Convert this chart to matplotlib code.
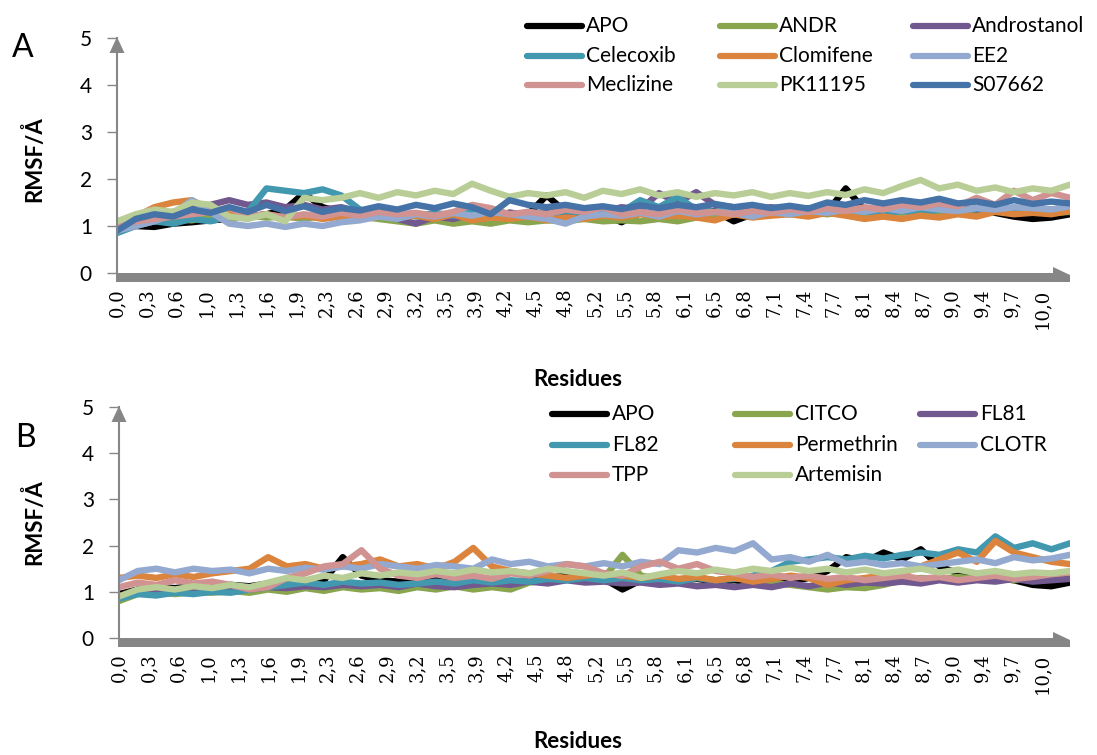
import numpy as np
import matplotlib.pyplot as plt
from matplotlib.lines import Line2D
from matplotlib.patches import Polygon

W, H = 1097, 755
plt.rcParams['font.family'] = ['Lato', 'DejaVu Sans']

# residue axis (category positions) and the Excel-style tick labels
resid = np.linspace(0, 10.3, 52)
tick_pos = np.linspace(0, 10, 32)
tick_labels = ['0,0', '0,3', '0,6', '1,0', '1,3', '1,6', '1,9', '2,3', '2,6', '2,9',
               '3,2', '3,5', '3,9', '4,2', '4,5', '4,8', '5,2', '5,5', '5,8', '6,1',
               '6,5', '6,8', '7,1', '7,4', '7,7', '8,1', '8,4', '8,7', '9,0', '9,4',
               '9,7', '10,0']

# ---- panel A (RMSF, Angstrom) ----
apo_a = [0.95, 1.00, 0.98, 1.05, 1.08, 1.12, 1.15, 1.20, 1.25, 1.35, 1.70, 1.40, 1.30,
         1.25, 1.30, 1.22, 1.25, 1.20, 1.28, 1.25, 1.20, 1.28, 1.25, 1.65, 1.30, 1.22,
         1.25, 1.08, 1.28, 1.22, 1.30, 1.25, 1.32, 1.10, 1.25, 1.30, 1.28, 1.32, 1.30,
         1.80, 1.35, 1.30, 1.35, 1.32, 1.38, 1.32, 1.35, 1.28, 1.20, 1.15, 1.18, 1.25]
andr_a = [0.95, 1.05, 1.10, 1.15, 1.12, 1.20, 1.15, 1.22, 1.18, 1.20, 1.15, 1.22, 1.18,
          1.20, 1.15, 1.10, 1.05, 1.12, 1.05, 1.10, 1.05, 1.12, 1.08, 1.12, 1.10, 1.15,
          1.10, 1.12, 1.10, 1.15, 1.10, 1.18, 1.20, 1.25, 1.22, 1.28, 1.25, 1.30, 1.25,
          1.30, 1.28, 1.32, 1.28, 1.35, 1.30, 1.32, 1.28, 1.35, 1.30, 1.32, 1.28, 1.30]
androstanol_a = [1.00, 1.10, 1.25, 1.30, 1.40, 1.45, 1.55, 1.45, 1.50, 1.40, 1.45, 1.35,
                 1.40, 1.30, 1.25, 1.15, 1.05, 1.20, 1.15, 1.25, 1.20, 1.28, 1.25, 1.30,
                 1.28, 1.35, 1.30, 1.40, 1.35, 1.70, 1.50, 1.72, 1.45, 1.40, 1.35, 1.40,
                 1.35, 1.38, 1.35, 1.40, 1.35, 1.38, 1.32, 1.38, 1.35, 1.40, 1.35, 1.38,
                 1.32, 1.38, 1.35, 1.40]
celecoxib_a = [0.85, 1.00, 1.10, 1.05, 1.15, 1.10, 1.20, 1.30, 1.80, 1.75, 1.70, 1.78,
               1.65, 1.35, 1.25, 1.30, 1.20, 1.28, 1.22, 1.30, 1.25, 1.20, 1.30, 1.25,
               1.32, 1.28, 1.35, 1.30, 1.55, 1.40, 1.62, 1.35, 1.30, 1.35, 1.28, 1.32,
               1.25, 1.30, 1.28, 1.35, 1.30, 1.25, 1.32, 1.28, 1.35, 1.30, 1.38, 1.32,
               1.28, 1.35, 1.30, 1.38]
clomifene_a = [1.00, 1.20, 1.40, 1.50, 1.55, 1.35, 1.25, 1.20, 1.25, 1.18, 1.22, 1.15,
               1.20, 1.15, 1.20, 1.18, 1.22, 1.15, 1.25, 1.12, 1.18, 1.15, 1.20, 1.12,
               1.18, 1.15, 1.22, 1.18, 1.25, 1.20, 1.22, 1.18, 1.12, 1.25, 1.18, 1.22,
               1.25, 1.20, 1.28, 1.22, 1.15, 1.20, 1.15, 1.22, 1.18, 1.25, 1.20, 1.30,
               1.25, 1.28, 1.25, 1.32]
ee2_a = [0.90, 1.00, 1.10, 1.25, 1.55, 1.30, 1.05, 1.00, 1.05, 0.98, 1.05, 1.00, 1.08,
         1.12, 1.20, 1.15, 1.25, 1.20, 1.28, 1.22, 1.30, 1.25, 1.20, 1.15, 1.05, 1.20,
         1.25, 1.22, 1.28, 1.20, 1.32, 1.25, 1.30, 1.28, 1.20, 1.30, 1.25, 1.32, 1.28,
         1.35, 1.30, 1.38, 1.32, 1.40, 1.35, 1.32, 1.38, 1.35, 1.40, 1.38, 1.35, 1.42]
meclizine_a = [1.00, 1.10, 1.15, 1.20, 1.25, 1.30, 1.40, 1.20, 1.25, 1.18, 1.25, 1.20,
               1.28, 1.22, 1.30, 1.25, 1.28, 1.22, 1.30, 1.45, 1.38, 1.25, 1.30, 1.25,
               1.35, 1.30, 1.40, 1.25, 1.30, 1.25, 1.35, 1.28, 1.30, 1.25, 1.32, 1.28,
               1.35, 1.30, 1.38, 1.32, 1.40, 1.35, 1.45, 1.40, 1.48, 1.42, 1.60, 1.45,
               1.75, 1.55, 1.70, 1.60]
pk11195_a = [1.10, 1.25, 1.35, 1.30, 1.50, 1.45, 1.20, 1.15, 1.25, 1.10, 1.60, 1.55,
             1.60, 1.70, 1.60, 1.72, 1.65, 1.75, 1.68, 1.90, 1.75, 1.62, 1.70, 1.65,
             1.72, 1.60, 1.75, 1.68, 1.78, 1.65, 1.72, 1.62, 1.70, 1.65, 1.72, 1.62,
             1.70, 1.64, 1.72, 1.66, 1.78, 1.70, 1.85, 1.98, 1.80, 1.88, 1.75, 1.82,
             1.72, 1.80, 1.75, 1.88]
s07662_a = [0.90, 1.15, 1.25, 1.20, 1.35, 1.28, 1.40, 1.30, 1.45, 1.32, 1.42, 1.30, 1.38,
            1.33, 1.42, 1.35, 1.45, 1.38, 1.48, 1.40, 1.25, 1.55, 1.45, 1.40, 1.45, 1.38,
            1.42, 1.36, 1.44, 1.38, 1.45, 1.40, 1.47, 1.40, 1.45, 1.38, 1.43, 1.37, 1.50,
            1.45, 1.55, 1.48, 1.55, 1.50, 1.58, 1.48, 1.52, 1.45, 1.55, 1.47, 1.52, 1.48]

# ---- panel B ----
apo_b = [0.95, 1.05, 1.10, 1.08, 1.12, 1.10, 1.15, 1.12, 1.18, 1.15, 1.20, 1.25, 1.75,
         1.35, 1.25, 1.22, 1.28, 1.25, 1.30, 1.25, 1.28, 1.22, 1.25, 1.30, 1.35, 1.30,
         1.28, 1.05, 1.25, 1.30, 1.25, 1.28, 1.22, 1.25, 1.20, 1.25, 1.22, 1.30, 1.45,
         1.75, 1.65, 1.85, 1.70, 1.92, 1.55, 1.40, 1.35, 1.30, 1.25, 1.15, 1.12, 1.20]
citco_b = [0.80, 0.95, 1.00, 0.95, 1.00, 0.98, 1.02, 0.98, 1.05, 1.00, 1.08, 1.02, 1.10,
           1.05, 1.08, 1.02, 1.10, 1.05, 1.12, 1.05, 1.10, 1.05, 1.20, 1.25, 1.30, 1.35,
           1.30, 1.80, 1.35, 1.28, 1.25, 1.30, 1.25, 1.30, 1.25, 1.20, 1.15, 1.10, 1.05,
           1.10, 1.08, 1.15, 1.25, 1.30, 1.28, 1.32, 1.28, 1.30, 1.25, 1.30, 1.28, 1.30]
fl81_b = [0.90, 1.00, 1.05, 1.00, 1.05, 1.02, 1.08, 1.05, 1.10, 1.08, 1.12, 1.10, 1.15,
          1.12, 1.15, 1.10, 1.18, 1.12, 1.10, 1.15, 1.18, 1.15, 1.22, 1.18, 1.25, 1.20,
          1.22, 1.18, 1.20, 1.15, 1.18, 1.12, 1.15, 1.10, 1.15, 1.10, 1.18, 1.12, 1.20,
          1.15, 1.20, 1.18, 1.22, 1.18, 1.25, 1.20, 1.25, 1.22, 1.28, 1.22, 1.25, 1.28]
fl82_b = [0.85, 0.95, 0.92, 0.98, 0.95, 1.00, 0.98, 1.05, 1.10, 1.15, 1.20, 1.15, 1.22,
          1.18, 1.20, 1.15, 1.18, 1.22, 1.18, 1.25, 1.20, 1.25, 1.22, 1.28, 1.25, 1.30,
          1.25, 1.30, 1.25, 1.28, 1.22, 1.30, 1.25, 1.28, 1.35, 1.45, 1.65, 1.70, 1.75,
          1.70, 1.78, 1.72, 1.80, 1.85, 1.80, 1.92, 1.85, 2.20, 1.95, 2.05, 1.92, 2.05]
permethrin_b = [1.30, 1.35, 1.30, 1.38, 1.32, 1.40, 1.45, 1.50, 1.75, 1.55, 1.60, 1.50,
                1.55, 1.60, 1.70, 1.55, 1.60, 1.50, 1.65, 1.95, 1.55, 1.45, 1.40, 1.35,
                1.30, 1.35, 1.40, 1.35, 1.30, 1.35, 1.28, 1.32, 1.25, 1.30, 1.22, 1.28,
                1.35, 1.30, 1.15, 1.25, 1.30, 1.35, 1.40, 1.55, 1.70, 1.85, 1.65, 2.10,
                1.85, 1.75, 1.65, 1.60]
clotr_b = [1.25, 1.45, 1.50, 1.42, 1.50, 1.45, 1.48, 1.40, 1.50, 1.45, 1.52, 1.48, 1.55,
           1.50, 1.60, 1.55, 1.50, 1.58, 1.55, 1.50, 1.70, 1.60, 1.65, 1.55, 1.60, 1.55,
           1.62, 1.55, 1.65, 1.60, 1.90, 1.85, 1.95, 1.88, 2.05, 1.70, 1.75, 1.65, 1.80,
           1.60, 1.65, 1.58, 1.62, 1.55, 1.60, 1.65, 1.70, 1.62, 1.75, 1.68, 1.72, 1.80]
tpp_b = [1.10, 1.20, 1.15, 1.25, 1.18, 1.22, 1.15, 1.05, 1.10, 1.30, 1.40, 1.55, 1.60,
         1.90, 1.50, 1.35, 1.30, 1.38, 1.30, 1.35, 1.28, 1.40, 1.35, 1.45, 1.60, 1.55,
         1.40, 1.35, 1.55, 1.65, 1.50, 1.60, 1.45, 1.40, 1.32, 1.38, 1.30, 1.35, 1.28,
         1.32, 1.25, 1.30, 1.35, 1.28, 1.32, 1.25, 1.30, 1.35, 1.28, 1.32, 1.38, 1.42]
artemisin_b = [0.90, 1.05, 1.10, 1.05, 1.12, 1.08, 1.15, 1.10, 1.20, 1.30, 1.25, 1.35,
               1.30, 1.40, 1.35, 1.42, 1.38, 1.45, 1.40, 1.48, 1.42, 1.45, 1.40, 1.50,
               1.45, 1.40, 1.35, 1.42, 1.30, 1.38, 1.45, 1.40, 1.48, 1.42, 1.50, 1.45,
               1.52, 1.45, 1.50, 1.42, 1.48, 1.40, 1.45, 1.50, 1.42, 1.48, 1.40, 1.45,
               1.38, 1.42, 1.40, 1.45]

names_a = ['APO', 'ANDR', 'Androstanol', 'Celecoxib', 'Clomifene', 'EE2',
           'Meclizine', 'PK11195', 'S07662']
series_a = [apo_a, andr_a, androstanol_a, celecoxib_a, clomifene_a, ee2_a,
            meclizine_a, pk11195_a, s07662_a]
colors_a = ['#000000', '#89A54E', '#71588F', '#4198AF', '#DB843D', '#93A9CF',
            '#D19392', '#B9CD96', '#4572A7']

names_b = ['APO', 'CITCO', 'FL81', 'FL82', 'Permethrin', 'CLOTR', 'TPP', 'Artemisin']
series_b = [apo_b, citco_b, fl81_b, fl82_b, permethrin_b, clotr_b, tpp_b, artemisin_b]
colors_b = ['#000000', '#89A54E', '#71588F', '#4198AF', '#DB843D', '#93A9CF',
            '#D19392', '#B9CD96']

GRAY = '#868686'

fig = plt.figure(figsize=(W / 100, H / 100), dpi=100)


def px_rect(left, top, right, bottom):
    return [left / W, 1 - bottom / H, (right - left) / W, (bottom - top) / H]


def draw_panel(rect, series, colors):
    ax = fig.add_axes(rect)
    for y, c in zip(series, colors):
        ax.plot(resid, y, color=c, lw=4.6, solid_joinstyle='round',
                solid_capstyle='round')
    ax.set_xlim(0, 10.3)
    ax.set_ylim(0, 5)
    for s in ['top', 'right', 'bottom']:
        ax.spines[s].set_visible(False)
    ax.spines['left'].set_color(GRAY)
    ax.spines['left'].set_linewidth(1.5)
    ax.set_yticks(range(6))
    ax.tick_params(axis='y', direction='out', length=7, width=1, color=GRAY,
                   labelsize=15, pad=11)
    ax.set_xticks(tick_pos)
    ax.set_xticklabels(tick_labels, rotation=90, family='DejaVu Serif', fontsize=13)
    ax.tick_params(axis='x', length=0, pad=11)

    # Excel-like arrow axes
    pos = ax.get_position()
    l, r = pos.x0 * W, pos.x1 * W
    z, t = pos.y0 * H, pos.y1 * H
    bar = [(l - 1, z), (r - 17, z), (r - 17, z + 6), (r, z - 2), (r, z - 9), (l - 1, z - 9)]
    head = [(l - 7.5, t - 15), (l + 7.5, t - 15), (l, t + 1)]
    for pts in (bar, head):
        fig.add_artist(Polygon([(x / W, y / H) for x, y in pts], closed=True,
                               transform=fig.transFigure, color=GRAY, lw=0))
    return ax


def draw_legend(names, colors, cols, rows, text_gap):
    for i, (n, c) in enumerate(zip(names, colors)):
        x0 = cols[i % 3]
        y = rows[i // 3]
        fig.add_artist(Line2D([x0 / W, (x0 + 55) / W], [1 - y / H, 1 - y / H],
                              transform=fig.transFigure, color=c, lw=4.5,
                              solid_capstyle='round'))
        fig.text((x0 + 55 + text_gap) / W, 1 - y / H, n, fontsize=15,
                 ha='left', va='center')


ax_a = draw_panel(px_rect(117, 38, 1070, 273), series_a, colors_a)
ax_b = draw_panel(px_rect(119, 407, 1070, 638), series_b, colors_b)

draw_legend(names_a, colors_a, [527, 720, 913], [26, 55.5, 85], 4)
draw_legend(names_b, colors_b, [552, 735, 920], [414, 445, 475], 5)

for label, (x, y) in [('A', (23, 48)), ('B', (25, 438))]:
    fig.text(x / W, 1 - y / H, label, fontsize=23, ha='center', va='center')
for y in (159, 522):
    fig.text(34 / W, 1 - y / H, 'RMSF/Å', fontsize=16, fontweight='bold',
             rotation=90, ha='center', va='center')
for y in (379, 742):
    fig.text(578 / W, 1 - y / H, 'Residues', fontsize=16, fontweight='bold',
             ha='center', va='center')

fig.savefig('out.png', dpi=100)
